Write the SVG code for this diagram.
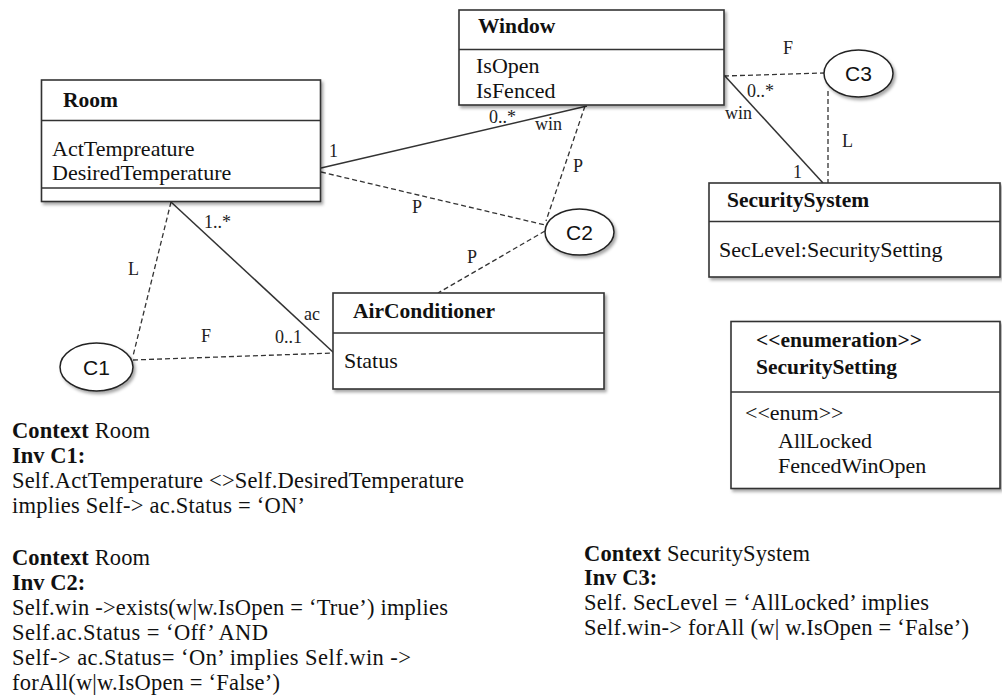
<svg xmlns="http://www.w3.org/2000/svg" width="1002" height="696" viewBox="0 0 1002 696">
<style>
.box{fill:#fff;stroke:#333;stroke-width:1.6}
.sep{stroke:#333;stroke-width:1.4;fill:none}
.t{font-family:"Liberation Serif","Times New Roman",serif;font-size:22px;fill:#111}
.b{font-weight:bold;font-size:21.5px}
.lbl{font-family:"Liberation Serif","Times New Roman",serif;font-size:18px;fill:#222}
.ocl{font-family:"Liberation Serif","Times New Roman",serif;font-size:22.5px;fill:#111}
.ob{font-weight:bold}
.ell{fill:#fff;stroke:#222;stroke-width:1.5}
.et{font-family:"Liberation Sans",Arial,sans-serif;font-size:21px;fill:#111;text-anchor:middle}
.solid{stroke:#333;stroke-width:1.5;fill:none}
.dash{stroke:#333;stroke-width:1.3;fill:none;stroke-dasharray:5,3}
</style>
<defs>
<filter id="sh" x="-5%" y="-5%" width="115%" height="125%">
<feDropShadow dx="2" dy="2.5" stdDeviation="1.5" flood-color="#000" flood-opacity="0.35"/>
</filter>
</defs>
<rect width="1002" height="696" fill="#fff"/>

<g id="connectors">
<line class="solid" x1="321" y1="168" x2="587" y2="106"/>
<line class="dash" x1="321" y1="172" x2="545" y2="225"/>
<line class="dash" x1="585" y1="106" x2="546" y2="221"/>
<line class="dash" x1="545" y1="231" x2="438" y2="293"/>
<line class="solid" x1="171" y1="202" x2="334" y2="353"/>
<line class="dash" x1="171" y1="202" x2="133" y2="356"/>
<line class="dash" x1="133" y1="360" x2="334" y2="353"/>
<line class="solid" x1="724" y1="75" x2="823" y2="183"/>
<line class="dash" x1="724" y1="76" x2="824" y2="73"/>
<line class="dash" x1="828" y1="91" x2="828" y2="183"/>
<text class="lbl" x="329" y="157">1</text>
<text class="lbl" x="489" y="123">0..*</text>
<text class="lbl" x="535" y="130">win</text>
<text class="lbl" x="573" y="172">P</text>
<text class="lbl" x="412" y="213">P</text>
<text class="lbl" x="467" y="263">P</text>
<text class="lbl" x="204" y="228">1..*</text>
<text class="lbl" x="304" y="320">ac</text>
<text class="lbl" x="275" y="343">0..1</text>
<text class="lbl" x="128" y="275">L</text>
<text class="lbl" x="201" y="342">F</text>
<text class="lbl" x="783" y="54">F</text>
<text class="lbl" x="747" y="97">0..*</text>
<text class="lbl" x="725" y="119">win</text>
<text class="lbl" x="793" y="178">1</text>
<text class="lbl" x="842" y="147">L</text>
</g>

<g id="room">
<rect class="box" x="41.5" y="80" width="279" height="121.5" filter="url(#sh)"/>
<line class="sep" x1="41.5" y1="120.5" x2="320.5" y2="120.5"/>
<line class="sep" x1="41.5" y1="188" x2="320.5" y2="188"/>
<text class="t b" x="63" y="107">Room</text>
<text class="t" x="52" y="156">ActTempreature</text>
<text class="t" x="52" y="180">DesiredTemperature</text>
</g>

<g id="window">
<rect class="box" x="459" y="10" width="265" height="95" filter="url(#sh)"/>
<line class="sep" x1="459" y1="49.5" x2="724" y2="49.5"/>
<text class="t b" x="478" y="33">Window</text>
<text class="t" x="476" y="73" font-size="21">IsOpen</text>
<text class="t" x="476" y="98" font-size="21">IsFenced</text>
</g>

<g id="airconditioner">
<rect class="box" x="333" y="293" width="271" height="96" filter="url(#sh)"/>
<line class="sep" x1="333" y1="333" x2="604" y2="333"/>
<text class="t b" x="353" y="318">AirConditioner</text>
<text class="t" x="344" y="368">Status</text>
</g>

<g id="securitysystem">
<rect class="box" x="709" y="183" width="291" height="94" filter="url(#sh)"/>
<line class="sep" x1="709" y1="221.5" x2="1000" y2="221.5"/>
<text class="t b" x="727" y="207">SecuritySystem</text>
<text class="t" x="719" y="257">SecLevel:SecuritySetting</text>
</g>

<g id="securitysetting">
<rect class="box" x="731" y="321.5" width="269" height="167" filter="url(#sh)"/>
<line class="sep" x1="731" y1="392" x2="1000" y2="392"/>
<text class="t b" x="756" y="347">&lt;&lt;enumeration&gt;&gt;</text>
<text class="t b" x="756" y="374">SecuritySetting</text>
<text class="t" x="745" y="420">&lt;&lt;enum&gt;&gt;</text>
<text class="t" x="778" y="448">AllLocked</text>
<text class="t" x="778" y="473">FencedWinOpen</text>
</g>

<g id="c1">
<ellipse class="ell" cx="96.5" cy="367" rx="36.5" ry="24" filter="url(#sh)"/>
<text class="et" x="96.5" y="374.5">C1</text>
</g>
<g id="c2">
<ellipse class="ell" cx="579.5" cy="232" rx="34.5" ry="23" filter="url(#sh)"/>
<text class="et" x="579.5" y="239.5">C2</text>
</g>
<g id="c3">
<ellipse class="ell" cx="858.5" cy="73.5" rx="34.5" ry="23.5" filter="url(#sh)"/>
<text class="et" x="858.5" y="81">C3</text>
</g>

<g id="ocl-c1">
<text class="ocl" x="12" y="438" textLength="138" lengthAdjust="spacing"><tspan class="ob">Context</tspan> Room</text>
<text class="ocl ob" x="12" y="463">Inv C1:</text>
<text class="ocl" x="12" y="488" textLength="452" lengthAdjust="spacing">Self.ActTemperature &lt;&gt;Self.DesiredTemperature</text>
<text class="ocl" x="12" y="513" textLength="293" lengthAdjust="spacing">implies Self-&gt; ac.Status = ‘ON’</text>
</g>
<g id="ocl-c2">
<text class="ocl" x="12" y="565" textLength="138" lengthAdjust="spacing"><tspan class="ob">Context</tspan> Room</text>
<text class="ocl ob" x="12" y="590">Inv C2:</text>
<text class="ocl" x="12" y="615" textLength="436" lengthAdjust="spacing">Self.win ->exists(w|w.IsOpen = ‘True’) implies</text>
<text class="ocl" x="12" y="640" textLength="256" lengthAdjust="spacing">Self.ac.Status = ‘Off’ AND</text>
<text class="ocl" x="12" y="665" textLength="399" lengthAdjust="spacing">Self-&gt; ac.Status= ‘On’ implies Self.win -&gt;</text>
<text class="ocl" x="12" y="690" textLength="268" lengthAdjust="spacing">forAll(w|w.IsOpen = ‘False’)</text>
</g>
<g id="ocl-c3">
<text class="ocl" x="584" y="561" textLength="226" lengthAdjust="spacing"><tspan class="ob">Context</tspan> SecuritySystem</text>
<text class="ocl ob" x="584" y="585">Inv C3:</text>
<text class="ocl" x="584" y="610" textLength="345" lengthAdjust="spacing">Self. SecLevel = ‘AllLocked’ implies</text>
<text class="ocl" x="584" y="635" textLength="385" lengthAdjust="spacing">Self.win-&gt; forAll (w| w.IsOpen = ‘False’)</text>
</g>
</svg>
